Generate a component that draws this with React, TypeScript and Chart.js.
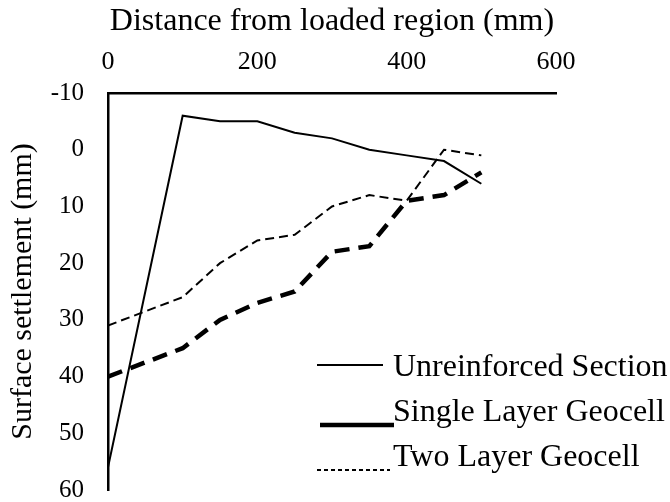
import React, { useEffect, useRef } from "react";
import { Chart, registerables } from "chart.js";

Chart.register(...registerables);

const distances = [0, 100, 150, 200, 250, 300, 350, 400, 450, 500];
const unreinforced = [56, -6, -5, -5, -3, -2, 0, 1, 2, 6];
const singleLayer = [40, 35, 30, 27, 25, 18, 17, 9, 8, 4];
const twoLayer = [31, 26, 20, 16, 15, 10, 8, 9, 0, 1];
const seriesNames = ["Unreinforced Section", "Single Layer Geocell", "Two Layer Geocell"];
const xTitle = "Distance from loaded region (mm)";
const yTitle = "Surface settlement (mm)";

const FONT = "'Liberation Serif', 'Times New Roman', serif";

const legendPlugin = {
  id: "customLegend",
  afterDraw(chart: any) {
    const ctx = chart.ctx;
    const { left, top } = chart.chartArea;
    const items = [
      { dy: 275, lx0: 209, lx1: 275, ly: 272, width: 2, dash: [] as number[] },
      { dy: 320, lx0: 212, lx1: 286, ly: 332, width: 4.5, dash: [] as number[] },
      { dy: 365, lx0: 209, lx1: 282, ly: 377, width: 2, dash: [4, 3] },
    ];
    ctx.save();
    items.forEach((it, i) => {
      ctx.beginPath();
      ctx.strokeStyle = "#000";
      ctx.lineWidth = it.width;
      ctx.setLineDash(it.dash);
      ctx.moveTo(left + it.lx0, top + it.ly);
      ctx.lineTo(left + it.lx1, top + it.ly);
      ctx.stroke();
      ctx.setLineDash([]);
      ctx.fillStyle = "#000";
      ctx.font = `32px ${FONT}`;
      ctx.textAlign = "left";
      ctx.textBaseline = "middle";
      ctx.fillText(seriesNames[i], left + 285, top + it.dy);
    });
    ctx.restore();
  },
};

export default function App() {
  const ref = useRef<HTMLCanvasElement>(null);
  useEffect(() => {
    document.body.style.margin = "0";
    const toPts = (arr: number[]) => distances.map((x, i) => ({ x, y: arr[i] }));
    const chart = new Chart(ref.current!, {
      type: "line",
      data: {
        datasets: [
          {
            label: seriesNames[0],
            data: toPts(unreinforced),
            borderColor: "#000",
            borderWidth: 2,
            pointRadius: 0,
            tension: 0,
          },
          {
            label: seriesNames[1],
            data: toPts(singleLayer),
            borderColor: "#000",
            borderWidth: 4.5,
            borderDash: [15, 9],
            pointRadius: 0,
            tension: 0,
          },
          {
            label: seriesNames[2],
            data: toPts(twoLayer),
            borderColor: "#000",
            borderWidth: 2,
            borderDash: [9, 5],
            pointRadius: 0,
            tension: 0,
          },
        ],
      },
      options: {
        responsive: false,
        animation: false,
        layout: { padding: { left: 0, right: 114, top: 0, bottom: 12 } },
        plugins: { legend: { display: false }, tooltip: { enabled: false } },
        scales: {
          x: {
            type: "linear",
            position: "top",
            min: 0,
            max: 600,
            ticks: { stepSize: 200, color: "#000", font: { family: FONT, size: 26 }, padding: 15 },
            grid: { display: false, drawTicks: false },
            border: { display: true, color: "#000", width: 2.5 },
            title: { display: true, text: xTitle, color: "#000", font: { family: FONT, size: 32 }, padding: { top: 2, bottom: 0 } },
            afterFit: (s: any) => { s.height = 93; },
          },
          y: {
            type: "linear",
            reverse: true,
            min: -10,
            max: 60,
            ticks: { stepSize: 10, color: "#000", font: { family: FONT, size: 25 }, padding: 24 },
            grid: { display: false, drawTicks: false },
            border: { display: true, color: "#000", width: 2.5 },
            title: { display: true, text: yTitle, color: "#000", font: { family: FONT, size: 30 }, padding: { top: 5, bottom: 0 } },
            afterFit: (s: any) => { s.width = 108; s.paddingTop = 0; s.paddingBottom = 0; },
          },
        },
      },
      plugins: [legendPlugin],
    });
    return () => chart.destroy();
  }, []);
  return (
    <div style={{ width: 670, height: 502, background: "#fff" }}>
      <canvas ref={ref} width={670} height={502} />
    </div>
  );
}
